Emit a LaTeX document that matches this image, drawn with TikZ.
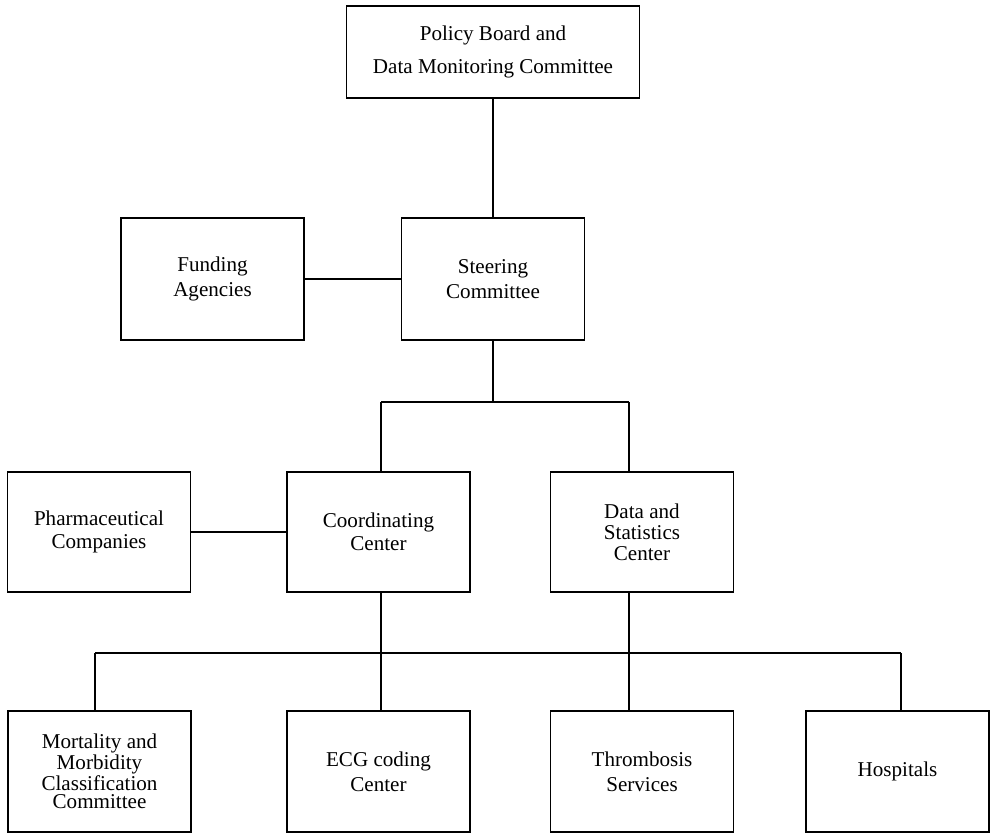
\documentclass[tikz,border=0pt]{standalone}
\usepackage{fontspec}
\setmainfont{Liberation Serif}
\usepackage{tikz}
\newcommand{\boxfont}[1]{\fontsize{12pt}{#1}\selectfont}
\tikzstyle{box}=[draw=black, shape=rectangle, line width=0.9pt,
        minimum width=3.66cm, minimum height=2.42cm, inner sep=0mm,
        align=center, font=\boxfont{14pt}]
\tikzstyle{wide box}=[style=box, minimum width=5.86cm, minimum height=1.84cm]
\tikzstyle{wire}=[-, draw=black, line width=0.8pt]

\begin{document}
\begin{tikzpicture}
            \useasboundingbox (0, 0) rectangle (19.82, 16.7);

            \node [style=wide box, font=\boxfont{19pt}] (0) at (9.86, 15.66) {Policy Board and\\Data Monitoring Committee};
            \node [style=box, minimum height=2.44cm] (1) at (9.86, 11.12) {Steering\\Committee};
            \node [style=box, minimum height=2.44cm] (2) at (4.25, 11.12) {Funding\\Agencies};

            \node [style=box, minimum height=2.4cm, font=\boxfont{13pt}] (3) at (1.98, 6.06) {Pharmaceutical\\Companies};
            \node [style=box, minimum height=2.4cm, font=\boxfont{13pt}] (4) at (7.57, 6.06) {Coordinating\\Center};
            \node [style=box, minimum height=2.4cm, font=\boxfont{12pt}] (5) at (12.84, 6.06) {Data and\\Statistics\\Center};

            \node [style=box, font=\boxfont{10.5pt}] (6) at (1.99, 1.27) {Mortality and\\Morbidity\\Classification\\Committee};
            \node [style=box] (7) at (7.57, 1.27) {ECG coding\\Center};
            \node [style=box] (8) at (12.84, 1.27) {Thrombosis\\Services};
            \node [style=box] (9) at (17.95, 1.27) {Hospitals};

            \coordinate (10) at (7.62, 8.66);
            \coordinate (11) at (12.58, 8.66);
            \coordinate (12) at (1.9, 3.64);
            \coordinate (13) at (18.02, 3.64);

            \draw [style=wire] (0) to (1);
            \draw [style=wire] (2) to (1);
            \draw [style=wire] (1) to (1 |- 10);
            \draw [style=wire] (10) to (11);
            \draw [style=wire] (10) to (10 |- 4.north);
            \draw [style=wire] (11) to (11 |- 5.north);
            \draw [style=wire] (3) to (4);

            \draw [style=wire] (10 |- 4.south) to (10 |- 7.north);
            \draw [style=wire] (11 |- 5.south) to (11 |- 8.north);
            \draw [style=wire] (12) to (13);
            \draw [style=wire] (12) to (12 |- 6.north);
            \draw [style=wire] (13) to (13 |- 9.north);
    \end{tikzpicture}
\end{document}
